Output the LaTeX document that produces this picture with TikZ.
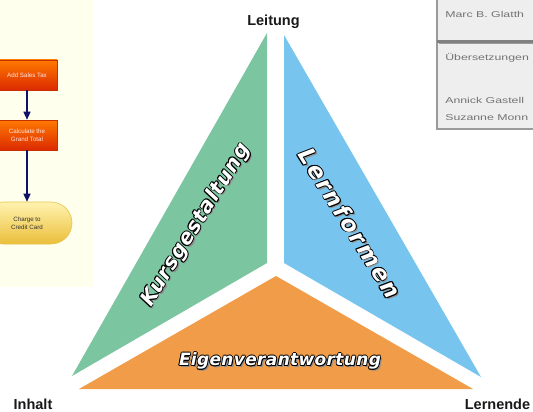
\documentclass[tikz,border=0pt]{standalone}
\usepackage{fontspec}
\setmainfont{Liberation Sans}
\newfontfamily\kfont[LetterSpace=4]{DejaVu Sans Bold Oblique}
\newfontfamily\lfont[LetterSpace=10]{DejaVu Sans Bold Oblique}
\newfontfamily\efont[LetterSpace=2]{DejaVu Sans Bold Oblique}
\usetikzlibrary{arrows.meta}
\definecolor{grn}{HTML}{7BC5A0}
\definecolor{blu}{HTML}{77C4EE}
\definecolor{org}{HTML}{F09C48}
\definecolor{ivory}{HTML}{FFFFEE}
\definecolor{navy}{HTML}{10106A}
\definecolor{panelbg}{HTML}{EEEEEE}
\definecolor{panelln}{HTML}{9A9A9A}
\definecolor{ftop}{HTML}{FF7A00}
\definecolor{fbot}{HTML}{DC2A00}
\definecolor{fbrd}{HTML}{C83000}
\definecolor{ytop}{HTML}{FFF3B0}
\definecolor{ybot}{HTML}{EBBE3A}
\definecolor{ybrd}{HTML}{E6C24A}
\tikzset{
  olbl/.style={inner sep=0pt, align=center},
  lab/.style={inner sep=0pt, text=black!90, font=\bfseries\fontsize{14.5}{16}\selectfont},
  fbox/.style={draw=fbrd, line width=0.6pt, top color=ftop, bottom color=fbot,
    minimum width=60pt, minimum height=30pt, inner sep=1pt, align=center, text=white!90!red,
    font=\fontsize{6.2}{7.8}\selectfont},
  fend/.style={draw=ybrd, line width=0.6pt, top color=ytop, bottom color=ybot,
    minimum width=90pt, minimum height=42pt, rounded corners=21pt, inner sep=1pt, align=center,
    text=black!80, font=\fontsize{6.2}{7.8}\selectfont},
  farrow/.style={draw=navy, line width=1.3pt, -{Triangle[length=8pt,width=7pt]}},
  ptext/.style={inner sep=0pt, anchor=base west, text=black!55, font=\fontsize{8.5}{10}\selectfont, xscale=1.45}
}
\newcommand\outlbl[5]{%
  \node[olbl, text=black!45, rotate=#3] (#1s) at ([shift={(1.8,-1.8)}]#2) {#4#5};
  \foreach \a in {0,45,...,315}{\node[olbl, text=black, rotate=#3] (#1o\a) at ([shift={(\a:0.85)}]#2) {#4#5};}
  \node[olbl, text=white, rotate=#3] (#1) at (#2) {#4#5};
}
\begin{document}
\begin{tikzpicture}[x=1pt,y=1pt]
\useasboundingbox (0,0) rectangle (533,-412);
\clip (0,0) rectangle (533,-412);
\fill[white] (0,0) rectangle (533,-412);
% left panel
\fill[ivory] (0,0) rectangle (93,-287);
\node[fbox] (tax) at (27,-75) {Add Sales Tax};
\node[fbox] (tot) at (27,-135) {Calculate the\\Grand Total};
\node[fend] (chg) at (27,-223) {Charge to\\Credit Card};
\draw[farrow] (tax) -- (tot);
\draw[farrow] (tot) -- (chg);
% top right panel
\fill[panelbg] (436,2) rectangle (540,-130);
\draw[panelln, line width=2pt] (437,2) -- (437,-129) -- (540,-129);
\draw[black!50, line width=2.5pt] (437,-41.5) -- (540,-41.5);
\draw[panelln, line width=1pt] (439,-44) -- (540,-44);
\node[ptext] (p1) at (445,-18) {Marc B. Glatth};
\node[ptext] (p2) at (445,-61) {Übersetzungen};
\node[ptext] (p3) at (445,-103) {Annick Gastell};
\node[ptext] (p4) at (445,-120) {Suzanne Monn};
% triangles
\fill[grn] (267,-33) -- (267,-263) -- (72,-376) -- cycle;
\fill[blu] (284,-35) -- (284,-263) -- (481,-377) -- cycle;
\fill[org] (276,-276) -- (473,-389) -- (79,-389) -- cycle;
% corner labels
\node[lab, anchor=base] (leit) at (273.5,-26) {Leitung};
\node[lab, anchor=base] (inh) at (33,-409) {Inhalt};
\node[lab, anchor=base] (lern) at (497.5,-409) {Lernende};
% segment labels
\outlbl{kurs}{196,-225}{58}{\kfont\fontsize{20.5}{21}\selectfont}{Kursgestaltung}
\outlbl{lform}{350,-223}{-58}{\lfont\fontsize{23}{24}\selectfont}{Lernformen}
\outlbl{eigen}{280,-361}{0}{\efont\fontsize{17}{18}\selectfont}{Eigenverantwortung}
\end{tikzpicture}
\end{document}
